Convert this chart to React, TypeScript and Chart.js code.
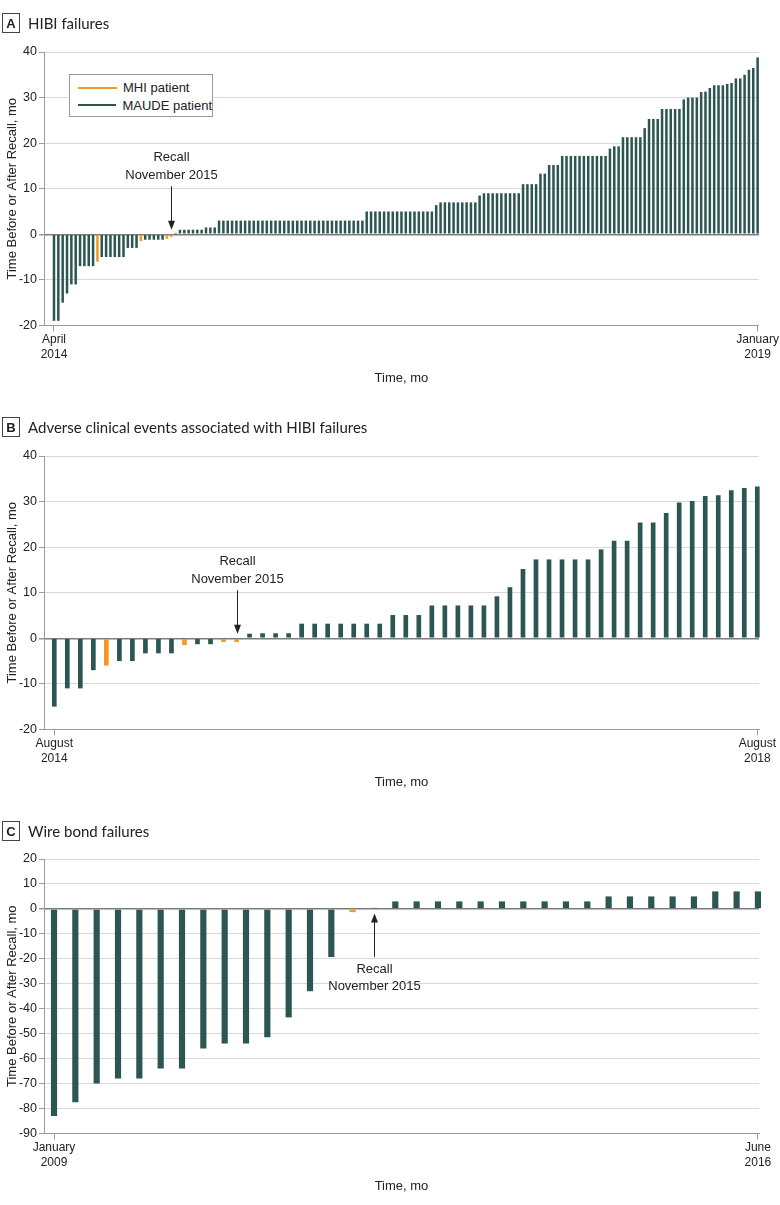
import React, { useEffect, useRef } from "react";
import { Chart, registerables } from "chart.js";

Chart.register(...registerables);

// ---------- Panel A: HIBI failures (months before/after recall, one bar per patient)
const hibiFailureMonths = [
  -19, -19, -15, -13, -11, -11, -7, -7, -7, -7,
  -6, -5, -5, -5, -5, -5, -5, -3, -3, -3,
  -1.5, -1.2, -1.2, -1.2, -1.2, -1.2, -1, -0.6, 0.3, 1,
  1, 1, 1, 1, 1, 1.5, 1.5, 1.5, 3, 3,
  3, 3, 3, 3, 3, 3, 3, 3, 3, 3,
  3, 3, 3, 3, 3, 3, 3, 3, 3, 3,
  3, 3, 3, 3, 3, 3, 3, 3, 3, 3,
  3, 3, 5, 5, 5, 5, 5, 5, 5, 5,
  5, 5, 5, 5, 5, 5, 5, 5, 6.4, 7,
  7, 7, 7, 7, 7, 7, 7, 7, 8.5, 9,
  9, 9, 9, 9, 9, 9, 9, 9, 11, 11,
  11, 11, 13.3, 13.3, 15.2, 15.2, 15.2, 17.2, 17.2, 17.2,
  17.2, 17.2, 17.2, 17.2, 17.2, 17.2, 17.2, 17.2, 18.8, 19.3,
  19.3, 21.3, 21.3, 21.3, 21.3, 21.3, 23.3, 25.3, 25.3, 25.3,
  27.5, 27.5, 27.5, 27.5, 27.5, 29.6, 30, 30, 30, 31.2,
  31.3, 32.1, 32.7, 32.7, 32.7, 33, 33.2, 34.2, 34.2, 35,
  36.1, 36.5, 38.8,
];
const hibiFailureMhiBars = [11, 21, 27, 28];
const hibiFailureEnds = [["April", "2014"], ["January", "2019"]];
const hibiFailureRecallBar = 28;

// ---------- Panel B: adverse clinical events associated with HIBI failures
const adverseEventMonths = [
  -15, -11, -11, -7, -6, -5, -5, -3.3, -3.3, -3.3,
  -1.5, -1.3, -1.3, -0.8, -0.8, 1, 1.1, 1.1, 1.1, 3.2,
  3.2, 3.2, 3.2, 3.2, 3.2, 3.2, 5.1, 5.1, 5.1, 7.2,
  7.2, 7.2, 7.2, 7.2, 9.2, 11.2, 15.2, 17.3, 17.3, 17.3,
  17.3, 17.3, 19.5, 21.4, 21.4, 25.4, 25.4, 27.5, 29.8, 30.1,
  31.2, 31.4, 32.5, 33, 33.3,
];
const adverseEventMhiBars = [5, 11, 14, 15];
const adverseEventEnds = [["August", "2014"], ["August", "2018"]];
const adverseEventRecallBar = 15;

// ---------- Panel C: wire bond failures
const wireBondMonths = [
  -83, -77.5, -70, -68, -68, -64, -64, -56, -54, -54,
  -51.5, -43.5, -33, -19.3, -1.3, 0.4, 3, 3, 3, 3,
  3, 3, 3, 3, 3, 3, 5, 5, 5, 5,
  5, 7, 7, 7,
];
const wireBondMhiBars = [15];
const wireBondEnds = [["January", "2009"], ["June", "2016"]];
const wireBondRecallBar = 16;

const MAUDE_COLOR = "#2c5652";
const MHI_COLOR = "#f29a22";
const FONT = '"Liberation Sans", Arial, sans-serif';
const TITLE_FONT = 'Lato, "Liberation Sans", sans-serif';
const TEXT = "#222222";
const AXIS = "#9a9a9a";

type PanelProps = {
  values: number[];
  mhi: number[];
  ends: string[][];
  recallBar: number;
  recallBelow: boolean;
  yMin: number;
  yMax: number;
  xMinPad: number;
  xMaxPad: number;
  barPct: number;
  top: number;
  height: number;
};

function Panel(p: PanelProps) {
  const ref = useRef<HTMLCanvasElement>(null);
  useEffect(() => {
    if (!ref.current) return;
    const maude: { x: number; y: number }[] = [];
    const mhi: { x: number; y: number }[] = [];
    p.values.forEach((v, i) => {
      const pt = { x: i + 1, y: v };
      if (p.mhi.includes(i + 1)) mhi.push(pt);
      else maude.push(pt);
    });
    const n = p.values.length;

    const recallPlugin = {
      id: "recall",
      afterDatasetsDraw(chart: any) {
        const { ctx } = chart;
        const xs = chart.scales.x;
        const ys = chart.scales.y;
        const px = Math.round(xs.getPixelForValue(p.recallBar)) + 0.5;
        const zero = ys.getPixelForValue(0);
        const s = p.recallBelow ? 1 : -1;
        const tip = zero + s * 4.5;
        const tail = zero + s * 48;
        ctx.save();
        ctx.strokeStyle = TEXT;
        ctx.fillStyle = TEXT;
        ctx.lineWidth = 1;
        ctx.beginPath();
        ctx.moveTo(px, tail);
        ctx.lineTo(px, tip + s * 6);
        ctx.stroke();
        ctx.beginPath();
        ctx.moveTo(px, tip);
        ctx.lineTo(px - 3.5, tip + s * 9);
        ctx.lineTo(px + 3.5, tip + s * 9);
        ctx.closePath();
        ctx.fill();
        ctx.font = `13px ${FONT}`;
        ctx.textAlign = "center";
        ctx.textBaseline = "middle";
        const l1 = p.recallBelow ? zero + 61 : zero - 76.5;
        const l2 = p.recallBelow ? zero + 77.5 : zero - 58.5;
        ctx.fillText("Recall", px, l1);
        ctx.fillText("November 2015", px, l2);
        ctx.restore();
      },
    };

    const chart = new Chart(ref.current, {
      type: "bar",
      data: {
        datasets: [
          {
            label: "MAUDE patient",
            data: maude as any,
            backgroundColor: MAUDE_COLOR,
            grouped: false,
            barPercentage: p.barPct,
            categoryPercentage: 1,
            clip: false as any,
          },
          {
            label: "MHI patient",
            data: mhi as any,
            backgroundColor: MHI_COLOR,
            grouped: false,
            barPercentage: p.barPct,
            categoryPercentage: 1,
            clip: false as any,
          },
        ],
      },
      options: {
        animation: false,
        responsive: false,
        maintainAspectRatio: false,
        layout: { padding: { top: 22, right: 21, left: 0, bottom: 0 } },
        plugins: { legend: { display: false }, tooltip: { enabled: false } },
        scales: {
          x: {
            type: "linear",
            min: 1 - p.xMinPad,
            max: n + p.xMaxPad,
            offset: false,
            afterBuildTicks: (s: any) => {
              s.ticks = [{ value: 1 }, { value: n }];
            },
            ticks: {
              autoSkip: false,
              maxRotation: 0,
              padding: 1,
              color: TEXT,
              font: { family: FONT, size: 12, lineHeight: 1.25 },
              callback: (v: any) => (v === 1 ? p.ends[0] : p.ends[1]),
            },
            grid: { offset: false, drawOnChartArea: false, drawTicks: true, tickLength: 6, color: AXIS },
            border: { display: true, color: AXIS },
            title: {
              display: true,
              text: "Time, mo",
              color: TEXT,
              font: { family: FONT, size: 13 },
              padding: { top: 7, bottom: 4 },
            },
          },
          y: {
            min: p.yMin,
            max: p.yMax,
            afterFit: (s: any) => {
              s.width = 44;
            },
            ticks: {
              stepSize: 10,
              padding: 2,
              color: TEXT,
              font: { family: FONT, size: 12.5 },
            },
            grid: {
              color: (c: any) => (c.tick && c.tick.value === 0 ? "#7d7d7d" : "#d9d9d9"),
              lineWidth: (c: any) => (c.tick && c.tick.value === 0 ? 1.5 : 1),
              tickColor: AXIS,
              tickLength: 5,
            },
            border: { display: true, color: AXIS },
            title: {
              display: true,
              text: "Time Before or After Recall, mo",
              color: TEXT,
              font: { family: FONT, size: 13 },
              padding: { top: 5, bottom: 0 },
            },
          },
        },
      } as any,
      plugins: [recallPlugin],
    });
    return () => chart.destroy();
  }, []);
  return (
    <canvas
      ref={ref}
      width={780}
      height={p.height}
      style={{ position: "absolute", left: 0, top: p.top, width: 780, height: p.height }}
    />
  );
}

function PanelTitle({ letter, text, top }: { letter: string; text: string; top: number }) {
  return (
    <div style={{ position: "absolute", left: 2, top, height: 20, display: "flex", alignItems: "center", zIndex: 2 }}>
      <div
        style={{
          width: 16,
          height: 18,
          border: "1px solid #444",
          display: "flex",
          alignItems: "center",
          justifyContent: "center",
          fontFamily: FONT,
          fontWeight: 700,
          fontSize: 13,
          color: TEXT,
        }}
      >
        {letter}
      </div>
      <div style={{ marginLeft: 8, fontFamily: TITLE_FONT, fontSize: 15, color: TEXT, whiteSpace: "nowrap" }}>{text}</div>
    </div>
  );
}

function Legend() {
  const row = (color: string, label: string) => (
    <div style={{ display: "flex", alignItems: "center", height: 17.5 }}>
      <div style={{ width: 39, height: 2, background: color, marginLeft: 8 }} />
      <div style={{ marginLeft: 6, fontFamily: FONT, fontSize: 13, color: TEXT, whiteSpace: "nowrap" }}>{label}</div>
    </div>
  );
  return (
    <div
      style={{
        position: "absolute",
        left: 69,
        top: 74,
        width: 144,
        height: 43,
        border: "1px solid #9a9a9a",
        background: "#fff",
        boxSizing: "border-box",
        paddingTop: 4,
        zIndex: 2,
      }}
    >
      {row(MHI_COLOR, "MHI patient")}
      {row(MAUDE_COLOR, "MAUDE patient")}
    </div>
  );
}

export default function App() {
  return (
    <div style={{ position: "absolute", left: 0, top: 0, width: 780, height: 1205, background: "#fff" }}>
      <Panel
        values={hibiFailureMonths}
        mhi={hibiFailureMhiBars}
        ends={hibiFailureEnds}
        recallBar={hibiFailureRecallBar}
        recallBelow={false}
        yMin={-20}
        yMax={40}
        xMinPad={2.3}
        xMaxPad={0.3}
        barPct={0.58}
        top={30}
        height={360}
      />
      <Panel
        values={adverseEventMonths}
        mhi={adverseEventMhiBars}
        ends={adverseEventEnds}
        recallBar={adverseEventRecallBar}
        recallBelow={false}
        yMin={-20}
        yMax={40}
        xMinPad={0.79}
        xMaxPad={0.13}
        barPct={0.36}
        top={434}
        height={360}
      />
      <Panel
        values={wireBondMonths}
        mhi={wireBondMhiBars}
        ends={wireBondEnds}
        recallBar={wireBondRecallBar}
        recallBelow={true}
        yMin={-90}
        yMax={20}
        xMinPad={0.47}
        xMaxPad={0.05}
        barPct={0.29}
        top={837}
        height={361}
      />
      <PanelTitle letter="A" text="HIBI failures" top={13} />
      <PanelTitle letter="B" text="Adverse clinical events associated with HIBI failures" top={417} />
      <PanelTitle letter="C" text="Wire bond failures" top={821} />
      <Legend />
    </div>
  );
}
